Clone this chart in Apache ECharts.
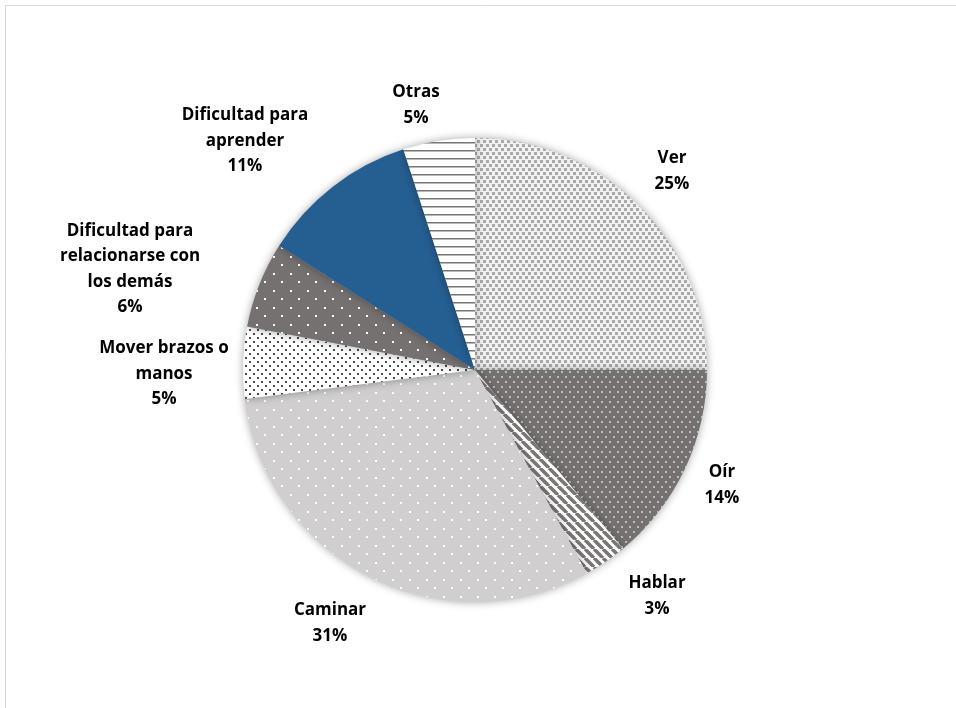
<!DOCTYPE html>
<html>
<head>
<meta charset="utf-8">
<script src="https://cdn.jsdelivr.net/npm/echarts@6/dist/echarts.min.js"></script>
<style>
html,body{margin:0;padding:0;background:#fff;}
#chart{width:956px;height:708px;}
</style>
</head>
<body>
<div id="chart"></div>
<script>
// Data
const categories = ['Ver', 'Oír', 'Hablar', 'Caminar', 'Mover brazos o\nmanos', 'Dificultad para\nrelacionarse con\nlos demás', 'Dificultad para\naprender', 'Otras'];
const values = [25, 14, 3, 31, 5, 6, 11, 5];

// Label anchor positions (layout only)
const labelPos = [[672, 171], [722, 485], [657, 596], [330, 623], [164, 374], [130, 269], [245, 141], [416, 105]];

function tile(w, h, draw) {
  const c = document.createElement('canvas');
  c.width = w; c.height = h;
  const g = c.getContext('2d');
  draw(g, w, h);
  return { image: c, repeat: 'repeat' };
}
const patterns = [
  tile(6, 8, (g) => { g.fillStyle = '#f1f1f1'; g.fillRect(0,0,6,8); g.fillStyle = '#a9a9a9'; g.fillRect(0,0,3,3); g.fillRect(3,4,3,3); }),
  tile(8, 10, (g) => { g.fillStyle = '#767171'; g.fillRect(0,0,8,10); g.fillStyle = '#bdbaba'; g.fillRect(1,1,2,2); g.fillRect(5,6,2,2); }),
  tile(9, 9, (g) => { g.fillStyle = '#ffffff'; g.fillRect(0,0,9,9); g.strokeStyle = '#7a7676'; g.lineWidth = 3.5;
    for (let k = -9; k <= 18; k += 9) { g.beginPath(); g.moveTo(k, 0); g.lineTo(k + 9, 9); g.stroke(); } }),
  tile(17, 17, (g) => { g.fillStyle = '#d0cece'; g.fillRect(0,0,17,17); g.fillStyle = '#ffffff'; g.fillRect(1,1,2,2); g.fillRect(9,9,2,2); }),
  tile(8, 8, (g) => { g.fillStyle = '#ffffff'; g.fillRect(0,0,8,8); g.fillStyle = '#4a4a4a'; g.fillRect(1,1,2,2); g.fillRect(5,5,2,2); }),
  tile(17, 17, (g) => { g.fillStyle = '#767171'; g.fillRect(0,0,17,17); g.fillStyle = '#ffffff'; g.fillRect(1,1,2,2); g.fillRect(9,9,2,2); }),
  '#255e91',
  tile(8, 8, (g) => { g.fillStyle = '#ffffff'; g.fillRect(0,0,8,8); g.fillStyle = '#7a7676'; g.fillRect(0,6,8,1); g.fillStyle = '#b9b6b6'; g.fillRect(0,7,8,1); })
];

const chart = echarts.init(document.getElementById('chart'), null, { renderer: 'canvas' });
chart.setOption({
  backgroundColor: '#ffffff',
  animation: false,
  graphic: [
    { type: 'line', shape: { x1: 5, y1: 5.5, x2: 956, y2: 5.5 }, style: { stroke: '#d9d9d9', lineWidth: 1 } },
    { type: 'line', shape: { x1: 5.5, y1: 5, x2: 5.5, y2: 708 }, style: { stroke: '#d9d9d9', lineWidth: 1 } }
  ],
  series: [{
    type: 'pie',
    center: [475, 370],
    radius: [0, 232],
    startAngle: 90,
    clockwise: true,
    data: categories.map((n, i) => ({ name: n, value: values[i], itemStyle: { color: patterns[i] } })),
    itemStyle: { shadowBlur: 8, shadowColor: 'rgba(0,0,0,0.35)', borderWidth: 0 },
    label: {
      show: true,
      position: 'outside',
      formatter: '{b}\n{c}%',
      fontFamily: '"Open Sans", sans-serif',
      fontWeight: 'bold',
      fontSize: 17,
      lineHeight: 25.5,
      color: '#000000',
      align: 'center'
    },
    labelLine: { show: false },
    labelLayout: function (p) {
      const pos = labelPos[p.dataIndex];
      return { x: pos[0], y: pos[1], align: 'center', verticalAlign: 'middle', hideOverlap: false };
    },
    emphasis: { disabled: true }
  }]
});
</script>
</body>
</html>
